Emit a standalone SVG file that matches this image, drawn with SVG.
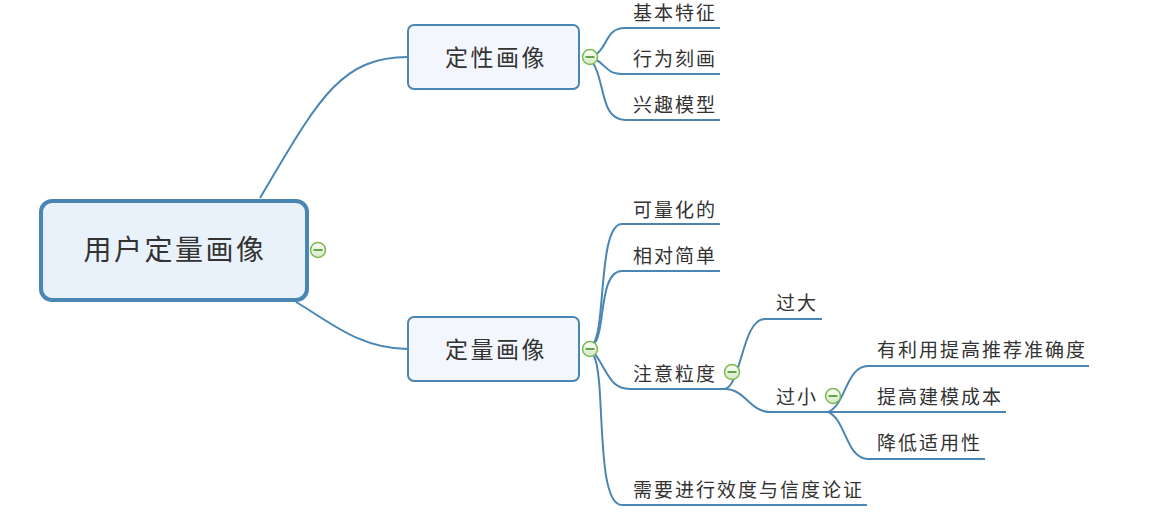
<svg xmlns="http://www.w3.org/2000/svg" width="1173" height="519" viewBox="0 0 1173 519">
<defs>
<linearGradient id="mg" x1="0" y1="0" x2="0" y2="1">
<stop offset="0" stop-color="#ffffff"/>
<stop offset="1" stop-color="#d4e8c4"/>
</linearGradient>
<g id="minus">
<circle r="7.5" fill="url(#mg)" stroke="#7cb850" stroke-width="1.5"/>
<line x1="-4.5" y1="0" x2="4.5" y2="0" stroke="#3a8a1a" stroke-width="1.5"/>
</g>
</defs>
<style>
.c{fill:none;stroke:#4a86b4;stroke-width:2}
.t{font-family:"Noto Sans CJK SC","Liberation Sans",sans-serif;fill:#333;font-size:19px;letter-spacing:2px}
.bt{font-family:"Noto Sans CJK SC","Liberation Sans",sans-serif;fill:#333;font-size:23px;letter-spacing:2.5px;text-anchor:middle}
.box{fill:#f3f7fd;stroke:#4a86b4;stroke-width:2}
</style>
<rect width="1173" height="519" fill="#ffffff"/>
<g id="connectors">
<path class="c" d="M260,198 C318,100 340,57 408,57"/>
<path class="c" d="M296,302 C330,322 360,349 408,349"/>
<path class="c" d="M595,55 C608,48 605,28 625,28 H720"/>
<path class="c" d="M595,59 C608,66 605,74 625,74 H720"/>
<path class="c" d="M593,63 C605,80 600,120 625,120 H720"/>
<path class="c" d="M593,344 C606,330 598,224 622,224 H720"/>
<path class="c" d="M593,345 C606,335 598,271 622,271 H720"/>
<path class="c" d="M595,354 C608,372 610,389 630,389 H725"/>
<path class="c" d="M594,356 C606,380 595,505 622,505 H867"/>
<path class="c" d="M725,389 C742,384 742,319 765,319 H822"/>
<path class="c" d="M725,389 C745,389 750,412 770,412 H830"/>
<path class="c" d="M828,412 C846,405 846,366 868,366 H1089"/>
<path class="c" d="M828,412 H1006"/>
<path class="c" d="M828,412 C846,419 846,459 868,459 H985"/>
</g>
<g id="root">
<rect x="41" y="201" width="266" height="99" rx="11" fill="#e9f1fb" stroke="#4a86b4" stroke-width="4"/>
<text x="175" y="260" class="bt" style="font-size:28px;letter-spacing:2.5px">用户定量画像</text>
<use href="#minus" x="318" y="250"/>
</g>
<g id="n-dingxing">
<rect class="box" x="408" y="25" width="171" height="64" rx="6"/>
<text x="496" y="66" class="bt">定性画像</text>
<use href="#minus" x="590" y="57"/>
</g>
<g id="n-dingliang">
<rect class="box" x="408" y="317" width="171" height="64" rx="6"/>
<text x="496" y="358" class="bt">定量画像</text>
<use href="#minus" x="590" y="349"/>
</g>
<g id="l1"><text class="t" x="633" y="20">基本特征</text></g>
<g id="l2"><text class="t" x="633" y="66">行为刻画</text></g>
<g id="l3"><text class="t" x="633" y="112">兴趣模型</text></g>
<g id="l4"><text class="t" x="633" y="217">可量化的</text></g>
<g id="l5"><text class="t" x="633" y="263">相对简单</text></g>
<g id="l6"><text class="t" x="633" y="381">注意粒度</text><use href="#minus" x="732" y="372"/></g>
<g id="l7"><text class="t" x="633" y="497">需要进行效度与信度论证</text></g>
<g id="l8"><text class="t" x="776" y="310">过大</text></g>
<g id="l9"><text class="t" x="776" y="404">过小</text><use href="#minus" x="833" y="396"/></g>
<g id="l10"><text class="t" x="877" y="357">有利用提高推荐准确度</text></g>
<g id="l11"><text class="t" x="877" y="404">提高建模成本</text></g>
<g id="l12"><text class="t" x="877" y="450">降低适用性</text></g>
</svg>
